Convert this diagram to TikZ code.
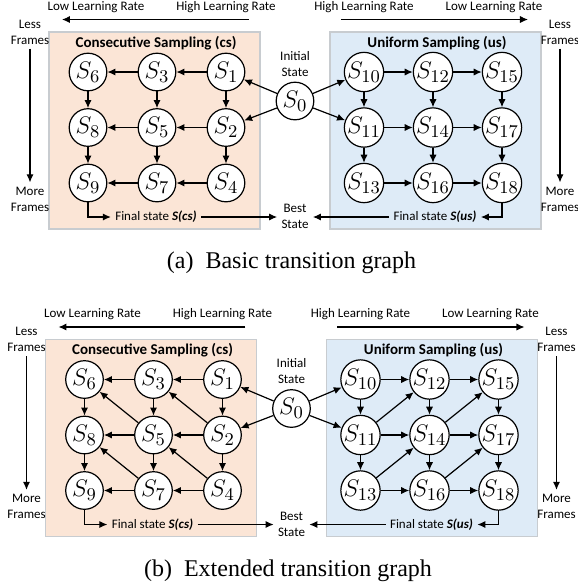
\documentclass[tikz,border=0pt]{standalone}
\usepackage{fontspec}
\newfontfamily\lblfont{Carlito}
\newfontfamily\capfont{Liberation Serif}
\usetikzlibrary{arrows.meta}

\definecolor{csfill}{HTML}{FBE5D6}
\definecolor{usfill}{HTML}{DEEBF7}
\definecolor{boxline}{HTML}{C8CCD0}

\def \noderadius {18.8pt}
\def \topy {72}
\def \midy {127.5}
\def \boty {183}

\tikzset{
  state/.style={draw, circle, fill=white, minimum size=\noderadius, inner sep=0pt,
    line width=0.6pt, font=\fontsize{13}{13}\selectfont},
  lbl/.style={font=\lblfont\fontsize{6.5}{8}\selectfont, align=center, inner sep=2pt},
  title/.style={font=\lblfont\bfseries\fontsize{7.5}{9}\selectfont, inner sep=0pt},
  edge/.style={->, >={Latex[length=4pt,width=3.6pt]}, line width=0.6pt},
}

% one panel: #1 name prefix, #2 shift, #3 caption
\newcommand{\transpanel}[3]{%
\begin{scope}[shift={#2}]
\filldraw[fill=csfill, draw=boxline, line width=0.6pt] (49,32) rectangle (260,229);
\filldraw[fill=usfill, draw=boxline, line width=0.6pt] (330,32) rectangle (541,229);
\node[title] at (156,43) {Consecutive Sampling (cs)};
\node[title] at (437,43) {Uniform Sampling (us)};
% learning rate and frame axes
\node[lbl] at (96,7) {Low Learning Rate};
\node[lbl] at (226,7) {High Learning Rate};
\node[lbl] at (364,7) {High Learning Rate};
\node[lbl] at (494,7) {Low Learning Rate};
\coordinate (#1lrl0) at (249,19.5); \coordinate (#1lrl1) at (62,19.5);
\coordinate (#1lrr0) at (341,19.5); \coordinate (#1lrr1) at (528,19.5);
\draw[edge] (#1lrl0) -- (#1lrl1);
\draw[edge] (#1lrr0) -- (#1lrr1);
\node[lbl] (#1lessl) at (30,32) {Less\\Frames};
\node[lbl] (#1morel) at (30,199) {More\\Frames};
\node[lbl] (#1lessr) at (560,32) {Less\\Frames};
\node[lbl] (#1morer) at (560,199) {More\\Frames};
\draw[edge] (#1lessl) -- (#1morel);
\draw[edge] (#1lessr) -- (#1morer);
% states
\node[state] (#1s0) at (295,101) {$S_0$};
\node[lbl] (#1init) at (295,64) {Initial\\State};
\node[lbl] (#1best) at (295,216.5) {Best\\State};
\node[state] (#1s6) at (88,\topy) {$S_6$};
\node[state] (#1s3) at (157,\topy) {$S_3$};
\node[state] (#1s1) at (226,\topy) {$S_1$};
\node[state] (#1s8) at (88,\midy) {$S_8$};
\node[state] (#1s5) at (157,\midy) {$S_5$};
\node[state] (#1s2) at (226,\midy) {$S_2$};
\node[state] (#1s9) at (88,\boty) {$S_9$};
\node[state] (#1s7) at (157,\boty) {$S_7$};
\node[state] (#1s4) at (226,\boty) {$S_4$};
\node[state] (#1s10) at (364,\topy) {$S_{10}$};
\node[state] (#1s12) at (433,\topy) {$S_{12}$};
\node[state] (#1s15) at (502,\topy) {$S_{15}$};
\node[state] (#1s11) at (364,\midy) {$S_{11}$};
\node[state] (#1s14) at (433,\midy) {$S_{14}$};
\node[state] (#1s17) at (502,\midy) {$S_{17}$};
\node[state] (#1s13) at (364,\boty) {$S_{13}$};
\node[state] (#1s16) at (433,\boty) {$S_{16}$};
\node[state] (#1s18) at (502,\boty) {$S_{18}$};
% transitions
\draw[edge] (#1s0) -- (#1s1);
\draw[edge] (#1s0) -- (#1s2);
\draw[edge] (#1s0) -- (#1s10);
\draw[edge] (#1s0) -- (#1s11);
\draw[edge] (#1s1) -- (#1s3); \draw[edge] (#1s3) -- (#1s6);
\draw[edge] (#1s2) -- (#1s5); \draw[edge] (#1s5) -- (#1s8);
\draw[edge] (#1s4) -- (#1s7); \draw[edge] (#1s7) -- (#1s9);
\draw[edge] (#1s1) -- (#1s2); \draw[edge] (#1s2) -- (#1s4);
\draw[edge] (#1s3) -- (#1s5); \draw[edge] (#1s5) -- (#1s7);
\draw[edge] (#1s6) -- (#1s8); \draw[edge] (#1s8) -- (#1s9);
\draw[edge] (#1s10) -- (#1s12); \draw[edge] (#1s12) -- (#1s15);
\draw[edge] (#1s11) -- (#1s14); \draw[edge] (#1s14) -- (#1s17);
\draw[edge] (#1s13) -- (#1s16); \draw[edge] (#1s16) -- (#1s18);
\draw[edge] (#1s10) -- (#1s11); \draw[edge] (#1s11) -- (#1s13);
\draw[edge] (#1s12) -- (#1s14); \draw[edge] (#1s14) -- (#1s16);
\draw[edge] (#1s15) -- (#1s17); \draw[edge] (#1s17) -- (#1s18);
% final states
\node[lbl] (#1fcs) at (156,217) {Final state \textbf{\textit{S(cs)}}};
\node[lbl] (#1fus) at (435,217) {Final state \textbf{\textit{S(us)}}};
\draw[edge] (#1s9) |- (#1fcs);
\draw[edge] (#1s18) |- (#1fus);
\draw[edge] (#1fcs) -- (#1fcs -| #1best.west);
\draw[edge] (#1fus) -- (#1fus -| #1best.east);
\node[font=\capfont\fontsize{12}{14}\selectfont] (#1cap) at (291.5,263) {#3};
\end{scope}}

\begin{document}
\begin{tikzpicture}[x=0.5pt, y=-0.5pt]
\useasboundingbox (0,0) rectangle (578,586);
\transpanel{a}{(0,0)}{(a)\enspace Basic transition graph}
\transpanel{b}{(-3.5,307.5)}{(b)\enspace Extended transition graph}
% extra diagonal moves of the extended graph
\draw[edge] (bs5) -- (bs6);
\draw[edge] (bs2) -- (bs3);
\draw[edge] (bs7) -- (bs8);
\draw[edge] (bs4) -- (bs5);
\draw[edge] (bs11) -- (bs12);
\draw[edge] (bs14) -- (bs15);
\draw[edge] (bs13) -- (bs14);
\draw[edge] (bs16) -- (bs17);
\end{tikzpicture}
\end{document}
